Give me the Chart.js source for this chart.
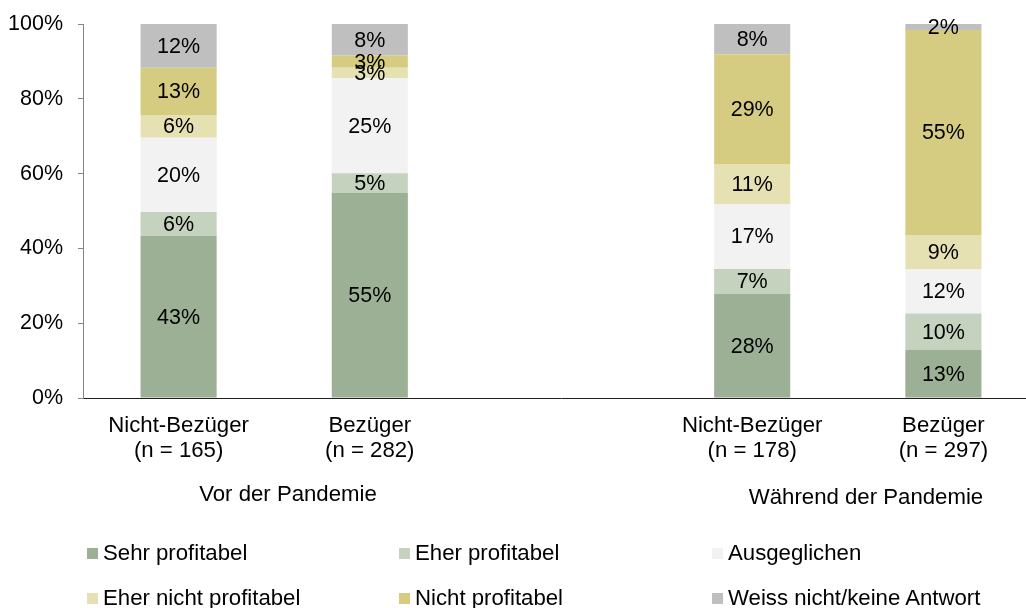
<!DOCTYPE html>
<html>
<head>
<meta charset="utf-8">
<script src="https://cdn.jsdelivr.net/npm/chart.js@4"></script>
<style>
  html, body { margin: 0; padding: 0; background: #fff; overflow: hidden; width: 1026px; height: 608px; }
  #wrap { position: absolute; left: 0; top: 0; width: 1039px; height: 608px; }
  .txt { position: absolute; font-family: 'Liberation Sans', Arial, sans-serif; font-size: 22.2px; line-height: 26px; color: #000; white-space: nowrap; }
  .sw { position: absolute; width: 11px; height: 11px; }
</style>
</head>
<body>
<div id="wrap"><canvas id="c" width="1039" height="608"></canvas></div>
<div id="overlay"></div>
<script>
const categories = [['Nicht-Bezüger', '(n = 165)'], ['Bezüger', '(n = 282)'], '', ['Nicht-Bezüger', '(n = 178)'], ['Bezüger', '(n = 297)']];
const groupLabels = ['Vor der Pandemie', 'Während der Pandemie'];
const seriesNames = ['Sehr profitabel', 'Eher profitabel', 'Ausgeglichen', 'Eher nicht profitabel', 'Nicht profitabel', 'Weiss nicht/keine Antwort'];
const sehrProfitabel = [43.4, 54.9, null, 27.8, 12.9];
const eherProfitabel = [6.3, 5.2, null, 6.7, 9.7];
const ausgeglichen = [19.9, 25.4, null, 17.4, 11.9];
const eherNichtProfitabel = [6.1, 2.8, null, 10.7, 9.1];
const nichtProfitabel = [12.6, 3.3, null, 29.3, 54.8];
const weissNicht = [11.7, 8.4, null, 8.1, 1.6];
const yTicks = [0, 20, 40, 60, 80, 100];

const colors = ['#9bb094', '#c4d2be', '#f2f2f2', '#e6e1b3', '#d6cc81', '#bfbfbf'];
const seriesData = [sehrProfitabel, eherProfitabel, ausgeglichen, eherNichtProfitabel, nichtProfitabel, weissNicht];
const FONT = "'Liberation Sans', Arial, sans-serif";
const FS = 21.5;
const FSX = 22.2;

const valueLabels = {
  id: 'valueLabels',
  afterDatasetsDraw(chart) {
    const ctx = chart.ctx;
    ctx.save();
    ctx.font = FS + 'px ' + FONT;
    ctx.fillStyle = '#000';
    ctx.textAlign = 'center';
    ctx.textBaseline = 'middle';
    chart.data.datasets.forEach((ds, i) => {
      const meta = chart.getDatasetMeta(i);
      meta.data.forEach((el, j) => {
        const v = ds.data[j];
        if (v == null) return;
        const p = el.getProps(['x', 'y', 'base'], true);
        ctx.fillText(Math.round(v) + '%', p.x, (p.y + p.base) / 2 + 1);
      });
    });
    ctx.restore();
  }
};

new Chart(document.getElementById('c'), {
  type: 'bar',
  data: {
    labels: categories,
    datasets: seriesNames.map((n, i) => ({
      label: n,
      data: seriesData[i],
      backgroundColor: colors[i],
      borderWidth: 0,
      categoryPercentage: 1,
      barPercentage: 0.398
    }))
  },
  options: {
    responsive: false,
    animation: false,
    devicePixelRatio: 1,
    layout: { padding: { top: 24, right: 0, bottom: 0, left: 0 } },
    plugins: { legend: { display: false }, tooltip: { enabled: false } },
    scales: {
      x: {
        stacked: true,
        grid: { display: false, drawTicks: false },
        border: { display: true, color: '#1f1f1f', width: 1 },
        ticks: {
          color: '#000',
          font: { family: FONT, size: FSX, lineHeight: 1.15 },
          padding: 15,
          maxRotation: 0,
          autoSkip: false
        },
        afterFit(s) { s.height = 210; }
      },
      y: {
        stacked: true,
        min: 0,
        max: 100,
        afterBuildTicks(s) { s.ticks = yTicks.map(v => ({ value: v })); },
        grid: { drawOnChartArea: false, drawTicks: true, tickLength: 5, color: '#868686' },
        border: { display: true, color: '#868686', width: 1 },
        ticks: {
          color: '#000',
          font: { family: FONT, size: FS, lineHeight: 0.8 },
          padding: 15,
          callback: v => v + '%'
        },
        afterFit(s) { s.width = 83; }
      }
    }
  },
  plugins: [valueLabels]
});

// group labels and legend as HTML text
const ov = document.getElementById('overlay');
function addText(t, left, top, center) {
  const d = document.createElement('div');
  d.className = 'txt';
  d.textContent = t;
  d.style.top = top + 'px';
  if (center) { d.style.left = (left - 200) + 'px'; d.style.width = '400px'; d.style.textAlign = 'center'; }
  else d.style.left = left + 'px';
  ov.appendChild(d);
}
addText(groupLabels[0], 288, 481, true);
addText(groupLabels[1], 866, 484, true);

const legCols = [87, 399, 712];
const legRows = [553, 598];
seriesNames.forEach((n, i) => {
  const col = i % 3, row = Math.floor(i / 3);
  const sw = document.createElement('div');
  sw.className = 'sw';
  sw.style.background = colors[i];
  sw.style.left = legCols[col] + 'px';
  sw.style.top = (legRows[row] - 5) + 'px';
  ov.appendChild(sw);
  addText(n, legCols[col] + 16, legRows[row] - 13, false);
});
</script>
</body>
</html>
